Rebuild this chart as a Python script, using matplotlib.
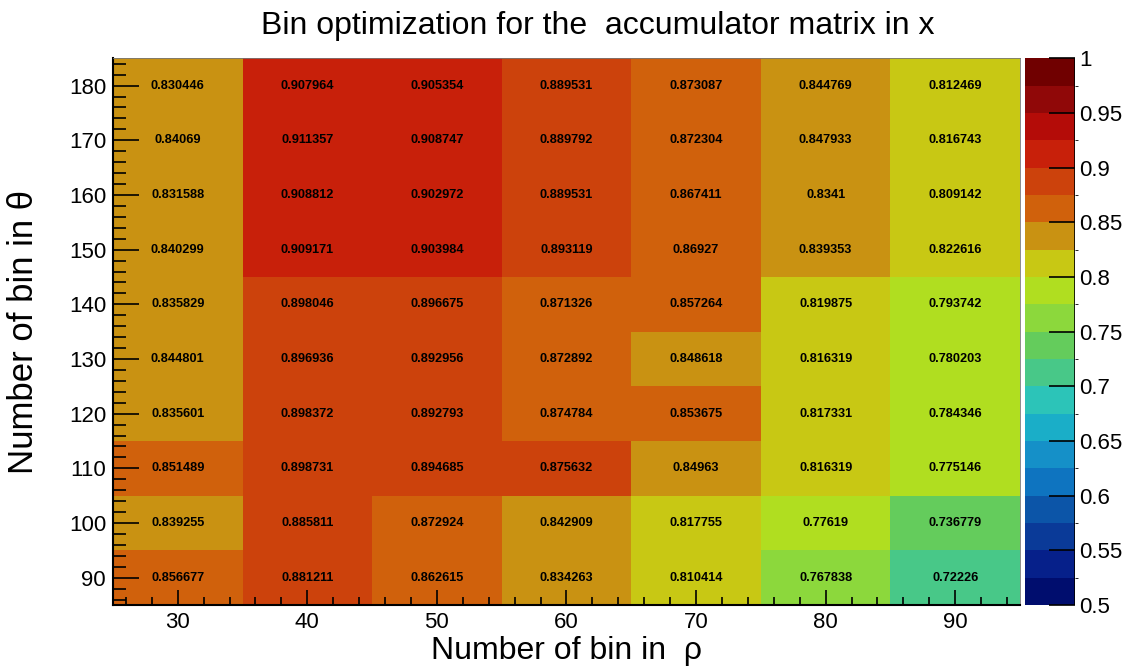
import matplotlib
matplotlib.use('Agg')
import matplotlib.pyplot as plt
from matplotlib.colors import ListedColormap, BoundaryNorm
import numpy as np

plt.rcParams['font.family'] = ['Liberation Sans', 'DejaVu Sans']

# bins
rho_bins = [30, 40, 50, 60, 70, 80, 90]
theta_bins = [90, 100, 110, 120, 130, 140, 150, 160, 170, 180]

# efficiency, one row per theta bin (90 -> 180), one column per rho bin
eff_90 = [0.856677, 0.881211, 0.862615, 0.834263, 0.810414, 0.767838, 0.72226]
eff_100 = [0.839255, 0.885811, 0.872924, 0.842909, 0.817755, 0.77619, 0.736779]
eff_110 = [0.851489, 0.898731, 0.894685, 0.875632, 0.84963, 0.816319, 0.775146]
eff_120 = [0.835601, 0.898372, 0.892793, 0.874784, 0.853675, 0.817331, 0.784346]
eff_130 = [0.844801, 0.896936, 0.892956, 0.872892, 0.848618, 0.816319, 0.780203]
eff_140 = [0.835829, 0.898046, 0.896675, 0.871326, 0.857264, 0.819875, 0.793742]
eff_150 = [0.840299, 0.909171, 0.903984, 0.893119, 0.86927, 0.839353, 0.822616]
eff_160 = [0.831588, 0.908812, 0.902972, 0.889531, 0.867411, 0.8341, 0.809142]
eff_170 = [0.84069, 0.911357, 0.908747, 0.889792, 0.872304, 0.847933, 0.816743]
eff_180 = [0.830446, 0.907964, 0.905354, 0.889531, 0.873087, 0.844769, 0.812469]

z = np.array([eff_90, eff_100, eff_110, eff_120, eff_130,
              eff_140, eff_150, eff_160, eff_170, eff_180])

# ROOT-like palette, 20 levels from 0.5 to 1
palette = ['#000d6e', '#06208a', '#0a3a98', '#0c55a8', '#0e74c0',
           '#1590c8', '#1aaec8', '#2cc4b8', '#48c888', '#64cc5c',
           '#8cd83c', '#b0de20', '#c8c814', '#c99212', '#d0610c',
           '#cc420c', '#c8200a', '#b40c08', '#900808', '#700000']
cmap = ListedColormap(palette)
levels = np.linspace(0.5, 1.0, 21)
norm = BoundaryNorm(levels, cmap.N)

fig = plt.figure(figsize=(11.34, 6.7), dpi=100)
ax = fig.add_axes([0.0996, 0.097, 0.7999, 0.816])

xe = np.array(rho_bins + [rho_bins[-1] + 10]) - 5
ye = np.array(theta_bins + [theta_bins[-1] + 10]) - 5
mesh = ax.pcolormesh(xe, ye, z, cmap=cmap, norm=norm)

for i, th in enumerate(theta_bins):
    for j, rh in enumerate(rho_bins):
        ax.text(rh, th, f'{z[i, j]:g}', ha='center', va='center',
                fontsize=9.2, fontweight='bold', color='black')

ax.set_xlim(25, 95)
ax.set_ylim(85, 185)
ax.set_xticks(rho_bins)
ax.set_yticks(theta_bins)
ax.set_xticks(np.arange(26, 95, 2), minor=True)
ax.set_yticks(np.arange(86, 185, 2), minor=True)
ax.tick_params(axis='both', which='both', direction='in', labelsize=16,
               width=1.2, colors='black')
ax.tick_params(axis='y', which='major', length=19, pad=5)
ax.tick_params(axis='y', which='minor', length=9.5)
ax.tick_params(axis='x', which='major', length=11, pad=5)
ax.tick_params(axis='x', which='minor', length=6)
for s in ['left', 'bottom']:
    ax.spines[s].set_linewidth(1.5)
for s in ['top', 'right']:
    ax.spines[s].set_linewidth(0.6)
    ax.spines[s].set_color('#777777')

ax.set_xlabel('Number of bin in  \u03c1', fontsize=23, labelpad=2)
ax.set_ylabel('Number of bin in \u03b8', fontsize=25)
ax.yaxis.set_label_coords(-0.080, 0.5)
fig.suptitle('Bin optimization for the  accumulator matrix in x',
             fontsize=23, x=0.527, y=0.984)

cax = fig.add_axes([0.904, 0.097, 0.044, 0.816])
cb = fig.colorbar(mesh, cax=cax, ticks=np.arange(0.5, 1.001, 0.05))
cb.ax.set_yticklabels(['0.5', '0.55', '0.6', '0.65', '0.7', '0.75',
                       '0.8', '0.85', '0.9', '0.95', '1'])
cb.outline.set_visible(False)
cb.ax.tick_params(direction='in', length=19, width=1.2, labelsize=16, pad=3)
cb.ax.axvline(1.0, color='black', lw=1.2)

fig.savefig('out.png', dpi=100)
